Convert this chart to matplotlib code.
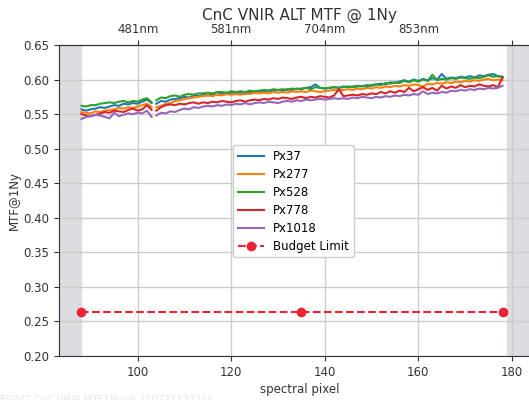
import numpy as np
import matplotlib
matplotlib.use("Agg")
import matplotlib.pyplot as plt

# spectral pixel axis, data break between 103 and 104
pixels = np.arange(88, 179)
gap_after = 103

px37 = [0.557, 0.555, 0.557, 0.558, 0.560, 0.559, 0.561, 0.563, 0.562, 0.565, 0.564, 0.566, 0.565, 0.568, 0.571, 0.566,
        0.565, 0.569, 0.568, 0.571, 0.572, 0.573, 0.575, 0.574, 0.577, 0.576, 0.578, 0.577, 0.579, 0.578, 0.580, 0.579,
        0.581, 0.580, 0.581, 0.579, 0.582, 0.581, 0.583, 0.582, 0.584, 0.583, 0.585, 0.584, 0.586, 0.585, 0.587, 0.586,
        0.588, 0.589, 0.593, 0.588, 0.587, 0.588, 0.589, 0.588, 0.590, 0.589, 0.590, 0.591, 0.590, 0.592, 0.591, 0.593,
        0.594, 0.593, 0.596, 0.595, 0.597, 0.599, 0.597, 0.600, 0.598, 0.601, 0.599, 0.602, 0.600, 0.608, 0.601, 0.603,
        0.602, 0.604, 0.603, 0.605, 0.603, 0.606, 0.605, 0.607, 0.608, 0.605, 0.604]
px277 = [0.553, 0.552, 0.551, 0.554, 0.553, 0.555, 0.556, 0.557, 0.559, 0.558, 0.560, 0.559, 0.561, 0.563, 0.565, 0.560,
         0.560, 0.562, 0.565, 0.566, 0.569, 0.570, 0.572, 0.573, 0.574, 0.575, 0.576, 0.577, 0.576, 0.578, 0.577, 0.579,
         0.578, 0.579, 0.578, 0.580, 0.579, 0.581, 0.580, 0.581, 0.580, 0.582, 0.581, 0.582, 0.581, 0.583, 0.582, 0.583,
         0.582, 0.584, 0.583, 0.582, 0.583, 0.584, 0.585, 0.584, 0.585, 0.586, 0.585, 0.587, 0.586, 0.588, 0.587, 0.589,
         0.588, 0.590, 0.589, 0.591, 0.590, 0.592, 0.591, 0.593, 0.592, 0.590, 0.594, 0.593, 0.595, 0.594, 0.596, 0.595,
         0.597, 0.596, 0.598, 0.597, 0.599, 0.598, 0.600, 0.601, 0.599, 0.600, 0.599]
px528 = [0.562, 0.561, 0.563, 0.563, 0.565, 0.566, 0.567, 0.566, 0.568, 0.569, 0.567, 0.569, 0.568, 0.571, 0.573, 0.567,
         0.570, 0.574, 0.573, 0.576, 0.577, 0.575, 0.578, 0.579, 0.578, 0.580, 0.580, 0.581, 0.580, 0.582, 0.582, 0.581,
         0.583, 0.582, 0.583, 0.582, 0.584, 0.583, 0.584, 0.585, 0.584, 0.586, 0.585, 0.586, 0.585, 0.587, 0.586, 0.587,
         0.588, 0.586, 0.589, 0.588, 0.587, 0.588, 0.589, 0.588, 0.589, 0.590, 0.589, 0.590, 0.591, 0.590, 0.592, 0.593,
         0.592, 0.595, 0.594, 0.596, 0.595, 0.598, 0.596, 0.599, 0.597, 0.600, 0.598, 0.607, 0.599, 0.601, 0.600, 0.602,
         0.601, 0.603, 0.602, 0.601, 0.603, 0.602, 0.604, 0.606, 0.604, 0.605, 0.603]
px778 = [0.550, 0.548, 0.547, 0.549, 0.551, 0.553, 0.552, 0.555, 0.554, 0.553, 0.556, 0.558, 0.555, 0.557, 0.563, 0.556,
         0.555, 0.560, 0.563, 0.564, 0.563, 0.565, 0.564, 0.566, 0.567, 0.565, 0.567, 0.566, 0.568, 0.567, 0.569, 0.568,
         0.567, 0.569, 0.570, 0.568, 0.570, 0.571, 0.570, 0.572, 0.571, 0.573, 0.572, 0.574, 0.573, 0.572, 0.574, 0.575,
         0.573, 0.575, 0.574, 0.576, 0.575, 0.574, 0.577, 0.586, 0.576, 0.577, 0.578, 0.577, 0.579, 0.578, 0.580, 0.579,
         0.582, 0.580, 0.583, 0.581, 0.584, 0.582, 0.588, 0.583, 0.586, 0.589, 0.585, 0.588, 0.584, 0.591, 0.587, 0.590,
         0.588, 0.592, 0.589, 0.591, 0.590, 0.593, 0.591, 0.590, 0.592, 0.589, 0.603]
px1018 = [0.543, 0.546, 0.547, 0.549, 0.548, 0.546, 0.544, 0.552, 0.547, 0.549, 0.551, 0.550, 0.552, 0.551, 0.555, 0.546,
          0.548, 0.552, 0.551, 0.554, 0.553, 0.556, 0.558, 0.557, 0.560, 0.559, 0.561, 0.562, 0.561, 0.563, 0.562, 0.564,
          0.563, 0.565, 0.564, 0.566, 0.564, 0.566, 0.567, 0.566, 0.568, 0.567, 0.566, 0.568, 0.569, 0.568, 0.570, 0.569,
          0.571, 0.570, 0.571, 0.572, 0.571, 0.572, 0.573, 0.572, 0.573, 0.572, 0.574, 0.573, 0.575, 0.574, 0.573, 0.575,
          0.574, 0.576, 0.575, 0.577, 0.576, 0.578, 0.577, 0.579, 0.578, 0.583, 0.579, 0.581, 0.580, 0.582, 0.581, 0.584,
          0.583, 0.585, 0.584, 0.586, 0.585, 0.587, 0.586, 0.588, 0.587, 0.588, 0.591]

series = [("Px37", px37, "#1f77b4"), ("Px277", px277, "#ff7f0e"), ("Px528", px528, "#2ca02c"),
          ("Px778", px778, "#d62728"), ("Px1018", px1018, "#9467bd")]

budget_x = [88, 135, 178]
budget_y = [0.263, 0.263, 0.263]

wl_ticks = [100, 120, 140, 160, 180]
wl_labels = ["481nm", "581nm", "704nm", "853nm", ""]

fs = 8.5

fig = plt.figure(figsize=(5.29, 4.0), dpi=100)
ax = fig.add_axes([59 / 529, 0.11, 481 / 529, 0.7775])

# excluded edge pixels
ax.axvspan(83, 88, color="#dcdde0", zorder=0)
ax.axvspan(179, 190, color="#dcdde0", zorder=0)

idx = np.searchsorted(pixels, gap_after + 1)
xs = np.insert(pixels.astype(float), idx, gap_after + 0.5)
for name, vals, col in series:
    ys = np.insert(np.array(vals), idx, np.nan)
    ax.plot(xs, ys, color=col, lw=1.5, label=name)

ax.plot(budget_x, budget_y, "--o", color="#ee2233", lw=1.5, ms=6, label="Budget Limit")

ax.set_xlim(83.2, 186)
ax.set_ylim(0.20, 0.65)
ax.set_yticks(np.arange(0.20, 0.651, 0.05))
ax.yaxis.set_major_formatter(matplotlib.ticker.FormatStrFormatter("%.2f"))
ax.set_xticks([100, 120, 140, 160, 180])
ax.grid(True, color="#cccccc", lw=1)
ax.set_axisbelow(True)
ax.spines["right"].set_visible(False)
ax.spines["bottom"].set_color("#333333")
ax.spines["left"].set_color("#333333")
ax.spines["top"].set_color("#333333")
ax.tick_params(colors="#333333", labelsize=fs)

sec = ax.secondary_xaxis("top")
sec.set_xticks(wl_ticks)
sec.set_xticklabels(wl_labels)
sec.tick_params(colors="#333333", labelsize=fs, pad=3)

ax.set_xlabel("spectral pixel", fontsize=fs, color="#333333", labelpad=3)
ax.set_ylabel("MTF@1Ny", fontsize=fs, color="#333333", labelpad=2)
ax.set_title("CnC VNIR ALT MTF @ 1Ny", fontsize=11, color="#333333", pad=2)

ax.legend(loc="upper left", bbox_to_anchor=(0.362, 0.678), fontsize=fs, framealpha=1.0,
          edgecolor="#cccccc", handlelength=2.2, borderpad=0.4, labelspacing=0.42,
          borderaxespad=0)

fig.text(0.0, 0.0, "FSOAT CnC VNIR MTF1Ny.sh 210727132710", fontsize=7, color="#e6e6e6", va="center")

fig.savefig("out.png", dpi=100)
